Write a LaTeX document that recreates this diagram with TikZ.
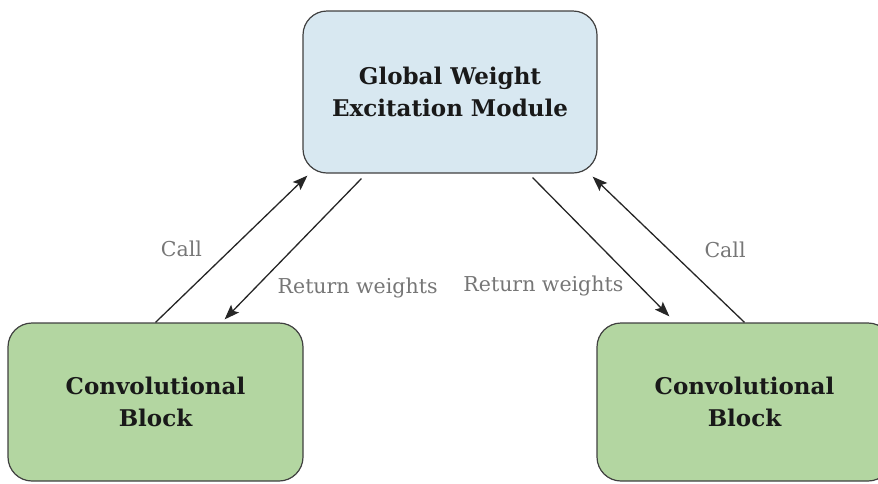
\documentclass[tikz,border=0pt]{standalone}
\usepackage{fontspec}
\setmainfont{DejaVu Serif}
\usetikzlibrary{calc,arrows.meta}

\definecolor{gwblue}{RGB}{216,232,241}
\definecolor{convgreen}{RGB}{179,214,161}
\definecolor{labelgray}{RGB}{118,118,118}

\tikzset{
  box/.style={draw=black!75, line width=1.2pt, rounded corners=24pt,
    align=center, font=\fontsize{23}{32}\selectfont\bfseries, text=black!90},
  gwbox/.style={box, fill=gwblue, minimum width=294pt, minimum height=162pt},
  convbox/.style={box, fill=convgreen, minimum width=295pt, minimum height=158pt},
  link/.style={line width=1.3pt, black!85, -{Stealth[length=15pt,width=11pt,inset=3pt]}},
  lbl/.style={text=labelgray, font=\fontsize{20.5}{24}\selectfont},
}

\begin{document}
\begin{tikzpicture}[x=1pt, y=-1pt]

%frame
\useasboundingbox (0,0) rectangle (878,483);
\clip (0,0) rectangle (878,483);

%boxes
\node[gwbox] (gwem) at (450,92) {Global Weight\\Excitation Module};
\node[convbox] (convL) at (155.5,402) {Convolutional\\Block};
\node[convbox] (convR) at (744.5,402) {Convolutional\\Block};

%left pair
\draw[link] (convL.north) -- node[lbl, midway, xshift=-50pt] {Call}
  ([shift={(5,2)}]gwem.south west);
\draw[link] ([shift={(59,5)}]gwem.south west) -- node[lbl, pos=0.78, right=19pt] {Return weights}
  ([shift={(-79,-3)}]convL.north east);

%right pair
\draw[link] ([shift={(-65,4)}]gwem.south east) -- node[lbl, pos=0.78, left=12pt] {Return weights}
  ([shift={(73,-6)}]convR.north west);
\draw[link] (convR.north) -- node[lbl, midway, right=32pt] {Call}
  ([shift={(-5,3)}]gwem.south east);

\end{tikzpicture}
\end{document}
